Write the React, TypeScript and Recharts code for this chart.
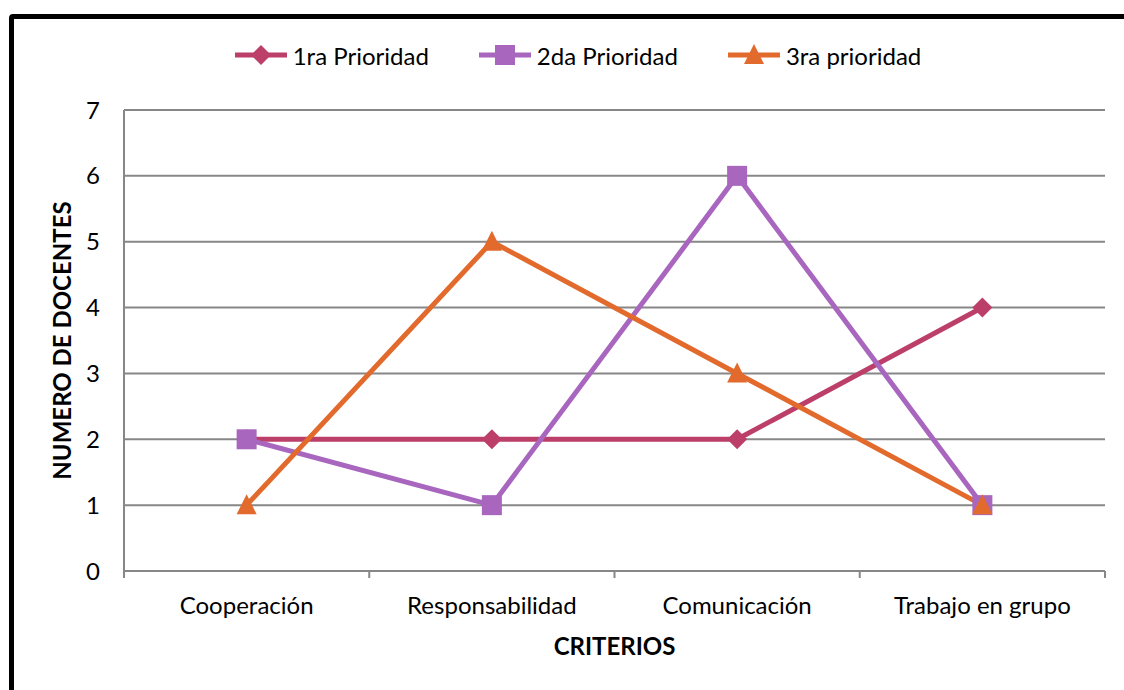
import { CartesianGrid, Legend, Line, LineChart, XAxis, YAxis } from "recharts"

const categories = ["Cooperación", "Responsabilidad", "Comunicación", "Trabajo en grupo"]
const prioridad1 = [2, 2, 2, 4]
const prioridad2 = [2, 1, 6, 1]
const prioridad3 = [1, 5, 3, 1]
const yTicks = [0, 1, 2, 3, 4, 5, 6, 7]
const seriesNames = ["1ra Prioridad", "2da Prioridad", "3ra prioridad"]

// each category sits in the middle of its slot; slot edges get tick marks
const data = categories.map((c, i) => ({
  pos: i + 0.5,
  criterio: c,
  p1: prioridad1[i],
  p2: prioridad2[i],
  p3: prioridad3[i],
}))
const xTicks = [0, ...categories.flatMap((_, i) => [i + 0.5, i + 1])]

const FONT = "Lato, 'Open Sans', sans-serif"
const GRID = "#878787"
const colors = ["#BB3F69", "#A866BE", "#E26A2C"]

const shapePath = (kind: string, cx: number, cy: number) => {
  if (kind === "diamond") return `M${cx},${cy - 10}L${cx + 10},${cy}L${cx},${cy + 10}L${cx - 10},${cy}Z`
  if (kind === "square") return `M${cx - 10},${cy - 10}h20v20h-20Z`
  return `M${cx},${cy - 11}L${cx + 10},${cy + 9}L${cx - 10},${cy + 9}Z`
}

const makeDot = (kind: string, color: string) => (props: any) => {
  const { cx, cy, index } = props
  return <path key={`${kind}-${index}`} d={shapePath(kind, cx, cy)} fill={color} />
}

const kinds = ["diamond", "square", "triangle"]

function XTick(props: any) {
  const { x, y, payload } = props
  const v = payload.value
  if (Number.isInteger(v)) {
    return <line x1={x} y1={y} x2={x} y2={y + 7} stroke={GRID} strokeWidth={2} />
  }
  const label = categories[Math.floor(v)]
  return (
    <text x={x} y={y + 43} textAnchor="middle" fontSize={24} fill="#000">
      {label}
    </text>
  )
}

function LegendContent() {
  return (
    <div style={{ display: "flex", justifyContent: "center", alignItems: "center", height: 40, paddingLeft: 18, fontFamily: FONT, fontSize: 24, color: "#000" }}>
      {seriesNames.map((name, i) => (
        <div key={name} style={{ display: "flex", alignItems: "center", marginRight: i < 2 ? 50 : 0 }}>
          <svg width={52} height={24} style={{ marginRight: 6 }}>
            <line x1={0} y1={12} x2={52} y2={12} stroke={colors[i]} strokeWidth={5} />
            <path d={shapePath(kinds[i], 26, 12)} fill={colors[i]} />
          </svg>
          <span>{name}</span>
        </div>
      ))}
    </div>
  )
}

function Chart() {
  return (
    <LineChart
      width={1110}
      height={670}
      data={data}
      margin={{ top: 51, right: 19, left: 10, bottom: 18 }}
      style={{ fontFamily: FONT }}
    >
      <CartesianGrid vertical={false} stroke={GRID} strokeWidth={2} />
      <XAxis
        type="number"
        dataKey="pos"
        domain={[0, categories.length]}
        ticks={xTicks}
        interval={0}
        height={100}
        axisLine={{ stroke: GRID, strokeWidth: 2 }}
        tickLine={false}
        tickSize={0}
        tickMargin={0}
        tick={<XTick />}
        label={{
          content: ({ viewBox }: any) => (
            <text x={viewBox.x + viewBox.width / 2} y={viewBox.y + 84} textAnchor="middle" fontSize={24} fontWeight="bold" fill="#000">
              CRITERIOS
            </text>
          ),
        }}
      />
      <YAxis
        width={100}
        domain={[0, 7]}
        ticks={yTicks}
        interval={0}
        axisLine={{ stroke: GRID, strokeWidth: 2 }}
        tickLine={false}
        tickMargin={18}
        tick={{ fill: "#000", fontSize: 24 }}
        label={{
          content: ({ viewBox }: any) => {
            const x = viewBox.x + 47
            const y = viewBox.y + viewBox.height / 2
            return (
              <text x={x} y={y} transform={`rotate(-90, ${x}, ${y})`} textAnchor="middle" fontSize={24} fontWeight="bold" fill="#000">
                NUMERO DE DOCENTES
              </text>
            )
          },
        }}
      />
      <Legend verticalAlign="top" wrapperStyle={{ top: 16, left: 0, width: 1110 }} content={() => <LegendContent />} />
      {["p1", "p2", "p3"].map((key, i) => (
        <Line
          key={key}
          dataKey={key}
          name={seriesNames[i]}
          stroke={colors[i]}
          strokeWidth={5}
          strokeLinejoin="round"
          dot={makeDot(kinds[i], colors[i])}
          activeDot={false}
          isAnimationActive={false}
        />
      ))}
    </LineChart>
  )
}

export default function App() {
  return (
    <div
      style={{
        position: "fixed",
        left: 9,
        top: 14,
        width: 1200,
        height: 800,
        border: "5px solid #000",
        borderRadius: 4,
        background: "#fff",
        fontFamily: FONT,
      }}
    >
      <Chart />
    </div>
  )
}
